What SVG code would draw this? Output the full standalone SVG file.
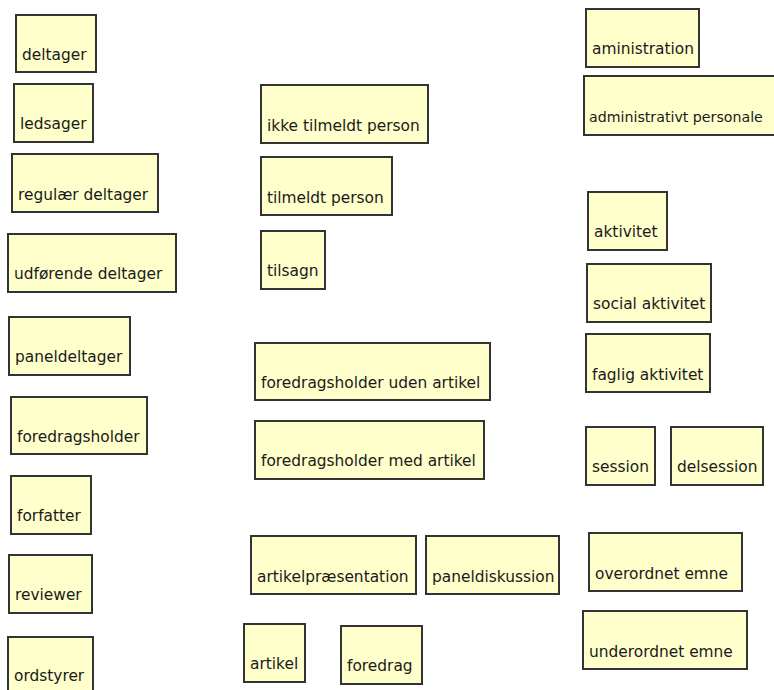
<svg xmlns="http://www.w3.org/2000/svg" width="774" height="690" viewBox="0 0 774 690">
  <style>
    .box rect { fill: #ffffcc; stroke: #333333; stroke-width: 2; }
    .box text { font-family: "DejaVu Sans", Verdana, sans-serif; font-size: 15.4px; fill: #1a1a1a; }
  </style>
  <rect width="774" height="690" fill="#ffffff"/>
  <g id="connectors"></g>

  <!-- left column: participant roles -->
  <g id="deltager" class="box"><rect x="16" y="15" width="80" height="57"/><text x="22" y="60">deltager</text></g>
  <g id="ledsager" class="box"><rect x="14" y="84" width="79" height="58"/><text x="20" y="129">ledsager</text></g>
  <g id="regulaer-deltager" class="box"><rect x="12" y="154" width="146" height="58"/><text x="18" y="200">regulær deltager</text></g>
  <g id="udfoerende-deltager" class="box"><rect x="8" y="234" width="168" height="58"/><text x="14" y="279">udførende deltager</text></g>
  <g id="paneldeltager" class="box"><rect x="9" y="317" width="121" height="58"/><text x="15" y="362">paneldeltager</text></g>
  <g id="foredragsholder" class="box"><rect x="11" y="397" width="136" height="57"/><text x="17" y="442">foredragsholder</text></g>
  <g id="forfatter" class="box"><rect x="11" y="476" width="80" height="58"/><text x="17" y="521">forfatter</text></g>
  <g id="reviewer" class="box"><rect x="9" y="555" width="83" height="58"/><text x="15" y="600">reviewer</text></g>
  <g id="ordstyrer" class="box"><rect x="8" y="637" width="85" height="58"/><text x="14" y="681">ordstyrer</text></g>

  <!-- middle column: registration and presentations -->
  <g id="ikke-tilmeldt-person" class="box"><rect x="261" y="85" width="167" height="58"/><text x="267" y="131">ikke tilmeldt person</text></g>
  <g id="tilmeldt-person" class="box"><rect x="261" y="157" width="131" height="58"/><text x="267" y="203">tilmeldt person</text></g>
  <g id="tilsagn" class="box"><rect x="261" y="231" width="64" height="58"/><text x="267" y="276">tilsagn</text></g>
  <g id="foredragsholder-uden-artikel" class="box"><rect x="255" y="343" width="235" height="57"/><text x="261" y="388">foredragsholder uden artikel</text></g>
  <g id="foredragsholder-med-artikel" class="box"><rect x="255" y="421" width="229" height="58"/><text x="261" y="466">foredragsholder med artikel</text></g>
  <g id="artikelpraesentation" class="box"><rect x="251" y="536" width="165" height="58"/><text x="257" y="582">artikelpræsentation</text></g>
  <g id="paneldiskussion" class="box"><rect x="426" y="536" width="133" height="58"/><text x="432" y="582">paneldiskussion</text></g>
  <g id="artikel" class="box"><rect x="244" y="624" width="61" height="58"/><text x="250" y="669">artikel</text></g>
  <g id="foredrag" class="box"><rect x="341" y="626" width="81" height="58"/><text x="347" y="671">foredrag</text></g>

  <!-- right column: administration, activities, sessions, topics -->
  <g id="aministration" class="box"><rect x="586" y="9" width="113" height="58"/><text x="592" y="54">aministration</text></g>
  <g id="administrativt-personale" class="box"><rect x="584" y="76" width="192" height="59"/><text x="589" y="122" style="font-size:14.2px">administrativt personale</text></g>
  <g id="aktivitet" class="box"><rect x="588" y="192" width="79" height="58"/><text x="594" y="237">aktivitet</text></g>
  <g id="social-aktivitet" class="box"><rect x="587" y="264" width="124" height="58"/><text x="593" y="309">social aktivitet</text></g>
  <g id="faglig-aktivitet" class="box"><rect x="586" y="334" width="124" height="58"/><text x="592" y="380">faglig aktivitet</text></g>
  <g id="session" class="box"><rect x="586" y="427" width="69" height="58"/><text x="592" y="472">session</text></g>
  <g id="delsession" class="box"><rect x="671" y="427" width="92" height="58"/><text x="677" y="472">delsession</text></g>
  <g id="overordnet-emne" class="box"><rect x="589" y="533" width="153" height="58"/><text x="595" y="579">overordnet emne</text></g>
  <g id="underordnet-emne" class="box"><rect x="583" y="611" width="164" height="58"/><text x="589" y="657">underordnet emne</text></g>
</svg>
